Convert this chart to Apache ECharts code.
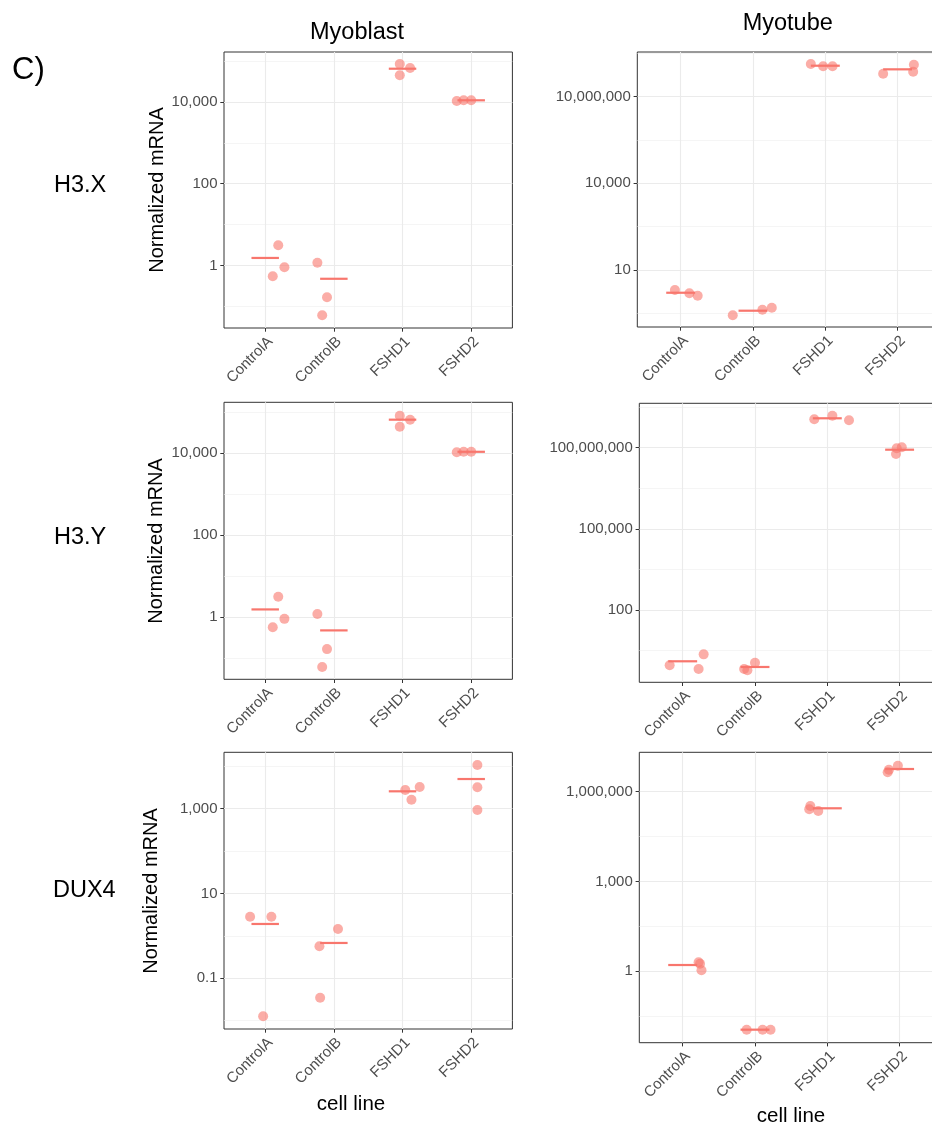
<!DOCTYPE html>
<html><head><meta charset="utf-8">
<script src="https://cdn.jsdelivr.net/npm/echarts@6/dist/echarts.min.js"></script>
<style>html,body{margin:0;padding:0;background:#fff}#c{width:932px;height:1129px}</style>
</head><body><div id="c"></div>
<script>
// ---------------- data ----------------
const categories = ['ControlA', 'ControlB', 'FSHD1', 'FSHD2'];

// Myoblast, H3.X
const myoblastH3X_values = [[3.10, 0.90, 0.54], [1.16, 0.166, 0.060], [85100, 67900, 45100], [10600, 11000, 11000]];
const myoblastH3X_jitter = [[0.19, 0.28, 0.11], [-0.24, -0.10, -0.17], [-0.04, 0.11, -0.04], [-0.21, -0.11, 0.00]];
const myoblastH3X_means  = [1.52, 0.47, 65300, 11000];

// Myotube, H3.X
const myotubeH3X_values = [[2.03, 1.56, 1.29], [0.270, 0.422, 0.494], [1.355e8, 1.127e8, 1.127e8], [6.25e7, 1.282e8, 7.35e7]];
const myotubeH3X_jitter = [[-0.08, 0.12, 0.235], [-0.28, 0.13, 0.26], [-0.20, -0.03, 0.10], [-0.20, 0.225, 0.215]];
const myotubeH3X_means  = [1.63, 0.389, 1.183e8, 8.87e7];

// Myoblast, H3.Y
const myoblastH3Y_values = [[3.12, 0.90, 0.56], [1.18, 0.164, 0.060], [83000, 66400, 44700], [10600, 10900, 10900]];
const myoblastH3Y_jitter = [[0.19, 0.28, 0.11], [-0.24, -0.10, -0.17], [-0.04, 0.11, -0.04], [-0.21, -0.11, 0.00]];
const myoblastH3Y_means  = [1.53, 0.47, 66400, 10900];

// Myotube, H3.Y
const myotubeH3Y_values = [[0.902, 0.661, 2.29], [0.661, 0.589, 1.127], [1.122e9, 1.524e9, 1.03e9], [5.85e7, 9.5e7, 1.035e8]];
const myotubeH3Y_jitter = [[-0.18, 0.22, 0.29], [-0.15, -0.105, 0.00], [-0.18, 0.07, 0.30], [-0.05, -0.04, 0.03]];
const myotubeH3Y_means  = [1.27, 0.782, 1.222e9, 8.43e7];

// Myoblast, DUX4
const myoblastDUX4_values = [[2.84, 2.84, 0.0127], [0.569, 1.455, 0.0348], [2760, 3250, 1630], [10740, 3200, 931]];
const myoblastDUX4_jitter = [[-0.22, 0.09, -0.03], [-0.21, 0.06, -0.20], [0.04, 0.25, 0.13], [0.09, 0.09, 0.09]];
const myoblastDUX4_means  = [1.91, 0.681, 2570, 5010];

// Myotube, DUX4
const myotubeDUX4_values = [[2.0, 1.79, 1.08], [0.0112, 0.0112, 0.0112], [3.33e5, 2.58e5, 2.26e5], [4.45e6, 5.43e6, 7.40e6]];
const myotubeDUX4_jitter = [[0.22, 0.24, 0.26], [-0.115, 0.105, 0.215], [-0.235, -0.25, -0.125], [-0.165, -0.148, -0.024]];
const myotubeDUX4_means  = [1.62, 0.0112, 2.79e5, 5.73e6];

// tick labels (major breaks) and minor grid breaks
const ticksMyoblastH3 = [1, 100, 10000];
const minorMyoblastH3 = [0.1, 10, 1000, 100000];
const ticksMyotubeH3X = [10, 10000, 10000000];
const minorMyotubeH3X = [10 ** -0.5, 10 ** 2.5, 10 ** 5.5, 10 ** 8.5];
const ticksMyotubeH3Y = [100, 100000, 100000000];
const minorMyotubeH3Y = [10 ** 0.5, 10 ** 3.5, 10 ** 6.5, 10 ** 9.5];
const ticksMyoblastDUX4 = [0.1, 10, 1000];
const minorMyoblastDUX4 = [0.01, 1, 100, 10000];
const ticksMyotubeDUX4 = [1, 1000, 1000000];
const minorMyotubeDUX4 = [10 ** -1.5, 10 ** 1.5, 10 ** 4.5];

// ---------------- layout ----------------
const FONT = "'Liberation Sans', Arial, Helvetica, sans-serif";
const panels = [
  { values: myoblastH3X_values, jitter: myoblastH3X_jitter, means: myoblastH3X_means, ticks: ticksMyoblastH3, minor: minorMyoblastH3,
    rect: [224, 52, 288.4, 276], ylog: [-1.533, 5.224] },
  { values: myotubeH3X_values, jitter: myotubeH3X_jitter, means: myotubeH3X_means, ticks: ticksMyotubeH3X, minor: minorMyotubeH3X,
    rect: [637.3, 52, 303.7, 275], ylog: [-0.974, 8.548] },
  { values: myoblastH3Y_values, jitter: myoblastH3Y_jitter, means: myoblastH3Y_means, ticks: ticksMyoblastH3, minor: minorMyoblastH3,
    rect: [224, 402.3, 288.4, 277], ylog: [-1.523, 5.247] },
  { values: myotubeH3Y_values, jitter: myotubeH3Y_jitter, means: myotubeH3Y_means, ticks: ticksMyotubeH3Y, minor: minorMyotubeH3Y,
    rect: [639.3, 403.3, 303.7, 279], ylog: [-0.673, 9.641] },
  { values: myoblastDUX4_values, jitter: myoblastDUX4_jitter, means: myoblastDUX4_means, ticks: ticksMyoblastDUX4, minor: minorMyoblastDUX4,
    rect: [224, 752.3, 288.4, 276.7], ylog: [-2.196, 4.330] },
  { values: myotubeDUX4_values, jitter: myotubeDUX4_jitter, means: myotubeDUX4_means, ticks: ticksMyotubeDUX4, minor: minorMyotubeDUX4,
    rect: [639.3, 752.3, 303.7, 290.4], ylog: [-2.386, 7.316] }
];

function fmtLog(v) {
  const val = Math.pow(10, v);
  if (v < -1e-9) return val.toFixed(Math.round(-v));
  return Math.round(val).toLocaleString('en-US');
}

const grid = [], xAxis = [], yAxis = [], series = [];
const catIdx = categories.map((c, i) => i);

panels.forEach((p, i) => {
  grid.push({ left: p.rect[0], top: p.rect[1], width: p.rect[2], height: p.rect[3],
    show: true, borderColor: '#333333', borderWidth: 1, backgroundColor: 'transparent',
    containLabel: false, outerBoundsMode: 'none' });
  xAxis.push({ type: 'value', gridIndex: i, min: -0.6, max: 3.6, position: 'bottom',
    axisLine: { show: false, onZero: false },
    axisTick: { show: true, length: 3.7, customValues: catIdx, lineStyle: { color: '#333333', width: 1 } },
    axisLabel: { customValues: catIdx, formatter: v => categories[Math.round(v)], rotate: 45,
      align: 'right', verticalAlign: 'top', margin: 6, color: '#4D4D4D', fontSize: 15, fontFamily: FONT },
    splitLine: { show: true, lineStyle: { color: '#EBEBEB', width: 1.1 } } });
  const majors = p.ticks.map(Math.log10), minors = p.minor.map(Math.log10);
  yAxis.push({ type: 'value', gridIndex: i, min: p.ylog[0], max: p.ylog[1], position: 'left',
    axisLine: { show: false, onZero: false },
    axisTick: { show: true, length: 3.7, customValues: majors, lineStyle: { color: '#333333', width: 1 } },
    axisLabel: { customValues: majors, formatter: fmtLog, margin: 6.5, color: '#4D4D4D', fontSize: 15, fontFamily: FONT },
    splitLine: { show: true, lineStyle: { color: '#EBEBEB', width: 1.1 } } });
  yAxis.push({ type: 'value', gridIndex: i, min: p.ylog[0], max: p.ylog[1], position: 'left',
    axisLine: { show: false, onZero: false },
    axisTick: { show: false, customValues: minors },
    axisLabel: { show: false },
    splitLine: { show: true, lineStyle: { color: '#EFEFEF', width: 0.6 } } });

  const pts = [];
  p.values.forEach((arr, c) => arr.forEach((v, k) => pts.push([c + p.jitter[c][k], Math.log10(v)])));
  series.push({ type: 'scatter', xAxisIndex: i, yAxisIndex: 2 * i, data: pts, symbol: 'circle', symbolSize: 10,
    itemStyle: { color: 'rgba(248,118,109,0.6)', borderWidth: 0, opacity: 1 }, silent: true, z: 3 });
  series.push({ type: 'custom', xAxisIndex: i, yAxisIndex: 2 * i, z: 4, silent: true,
    data: p.means.map((m, c) => [c, Math.log10(m)]),
    renderItem: (params, api) => {
      const a = api.coord([api.value(0) - 0.2, api.value(1)]);
      const b = api.coord([api.value(0) + 0.2, api.value(1)]);
      return { type: 'line', shape: { x1: a[0], y1: a[1], x2: b[0], y2: b[1] },
        style: { stroke: '#F8766D', lineWidth: 2.2 } };
    } });
});

function txt(text, x, y, size, opts) {
  return Object.assign({ type: 'text', x: x, y: y, silent: true,
    style: { text: text, fontSize: size, fontFamily: FONT, fill: '#000000',
      align: (opts && opts.align) || 'center', verticalAlign: 'middle' } },
    opts && opts.rotation ? { rotation: opts.rotation } : {});
}

const graphic = [
  txt('C)', 12, 70.5, 31, { align: 'left' }),
  txt('Myoblast', 357, 33, 23.5),
  txt('Myotube', 787.7, 24, 23.5),
  txt('H3.X', 54, 186, 23.5, { align: 'left' }),
  txt('H3.Y', 54, 538, 23.5, { align: 'left' }),
  txt('DUX4', 53, 891, 23.5, { align: 'left' }),
  txt('Normalized mRNA', 157.5, 190, 20, { rotation: Math.PI / 2 }),
  txt('Normalized mRNA', 156, 541, 20, { rotation: Math.PI / 2 }),
  txt('Normalized mRNA', 151, 891, 20, { rotation: Math.PI / 2 }),
  txt('cell line', 351, 1104, 20.5),
  txt('cell line', 791, 1116, 20.5)
];

const chart = echarts.init(document.getElementById('c'), null, { renderer: 'canvas' });
chart.setOption({ animation: false, backgroundColor: '#ffffff', grid, xAxis, yAxis, series, graphic });
</script></body></html>
